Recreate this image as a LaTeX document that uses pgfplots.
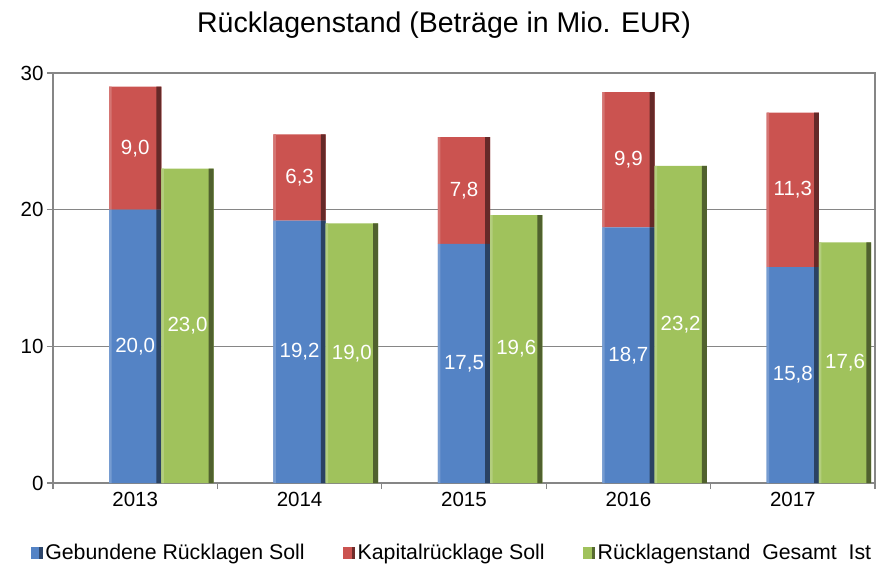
\documentclass[border=0pt]{standalone}
\usepackage{pgfplots}
\usepackage{pgfplotstable}
\pgfplotsset{compat=1.18}
\usepackage{fontspec}
\setmainfont{Liberation Sans}
\definecolor{cblue}{RGB}{84,131,197}
\definecolor{cred}{RGB}{203,83,80}
\definecolor{cgreen}{RGB}{160,194,92}
\definecolor{cgrid}{RGB}{134,134,134}
\pgfplotstableread{
x soll kap ist
0 20.0 9.0 23.0
1 19.2 6.3 19.0
2 17.5 7.8 19.6
3 18.7 9.9 23.2
4 15.8 11.3 17.6
}\data
\pgfplotsset{
  base/.style={
    scale only axis, width=822bp, height=410bp,
    xmin=-0.5, xmax=4.5, ymin=0, ymax=30,
    enlargelimits=false, clip=false,
    /pgf/number format/assume math mode=true,
    tick label style={font=\fontsize{20.5bp}{24bp}\selectfont, text=black},
  },
  lblfmt/.style={
    nodes near coords={\pgfmathprintnumber[fixed,fixed zerofill,precision=1,use comma,assume math mode=true]{\pgfplotspointmeta}},
    every node near coord/.append style={anchor=center, text=white,
      font=\fontsize{20.5bp}{24bp}\selectfont},
  },
  lblshift/.style={
    lblfmt,
    visualization depends on=rawy\as\rawy,
    every node near coord/.append style={shift={(axis direction cs:0,-\rawy/2)}},
  },
}
\begin{document}
\begin{tikzpicture}
\useasboundingbox (-53bp,-84bp) rectangle (823bp,483bp);
% main axis: stacked Soll bars
\begin{axis}[base,
  ybar stacked, bar width=0.318,
  axis line style={cgrid, line width=1.2bp},
  ytick={0,10,20,30}, ymajorgrids, grid style={cgrid, line width=1.2bp},
  xtick={-0.5,0.5,...,4.5}, xticklabels={},
  extra x ticks={0,1,2,3,4}, extra x tick labels={2013,2014,2015,2016,2017},
  extra x tick style={grid=none, tick style={draw=none}},
  xtick pos=bottom, ytick pos=left, tick align=outside,
  major tick length=6bp, tick style={cgrid, line width=1.2bp},
  legend columns=3,
  legend style={at={(0.4845,-0.1707)}, anchor=center, draw=none, fill=none,
    font=\fontsize{21.3bp}{25bp}\selectfont, nodes={inner sep=0.5bp},
    /tikz/every odd column/.append style={column sep=2bp},
    /tikz/every even column/.append style={column sep=38bp}},
  legend cell align=left,
  legend image code/.code={\fill[#1] (0bp,-6bp) rectangle (12bp,6bp);
     \fill[black, opacity=0.45] (8.5bp,-6bp) rectangle (12bp,6bp);},
]
\addplot[draw=none, fill=cblue, lblfmt] table[x=x, y=soll] {\data};
\addlegendentry{Gebundene Rücklagen Soll}
\addplot[draw=none, fill=cred, lblfmt] table[x=x, y=kap] {\data};
\addlegendentry{Kapitalrücklage Soll}
\addlegendimage{draw=none, fill=cgreen}
\addlegendentry{Rücklagenstand\ \ Gesamt\ \ Ist}
\end{axis}
% dark right-hand edges of the stacked bars
\begin{axis}[base, hide axis, ybar stacked, bar width=0.03]
\addplot[draw=none, fill=cblue!50!black, bar shift=0.144] table[x=x, y=soll] {\data};
\addplot[draw=none, fill=cred!50!black, bar shift=0.144] table[x=x, y=kap] {\data};
\end{axis}
% light left-hand edges of the stacked bars
\begin{axis}[base, hide axis, ybar stacked, bar width=0.015]
\addplot[draw=none, fill=cblue!80!white, bar shift=-0.1515] table[x=x, y=soll] {\data};
\addplot[draw=none, fill=cred!80!white, bar shift=-0.1515] table[x=x, y=kap] {\data};
\end{axis}
% Ist bars
\begin{axis}[base, hide axis, ybar]
\addplot[draw=none, fill=cgreen, bar width=0.318, bar shift=0.318, lblshift] table[x=x, y=ist] {\data};
\addplot[draw=none, fill=cgreen!50!black, bar width=0.03, bar shift=0.462] table[x=x, y=ist] {\data};
\addplot[draw=none, fill=cgreen!80!white, bar width=0.015, bar shift=0.1665] table[x=x, y=ist] {\data};
\end{axis}
\node[font=\fontsize{28.5bp}{33bp}\selectfont] at (391bp,458bp) {Rücklagenstand (Beträge in Mio. EUR)};
\end{tikzpicture}
\end{document}
